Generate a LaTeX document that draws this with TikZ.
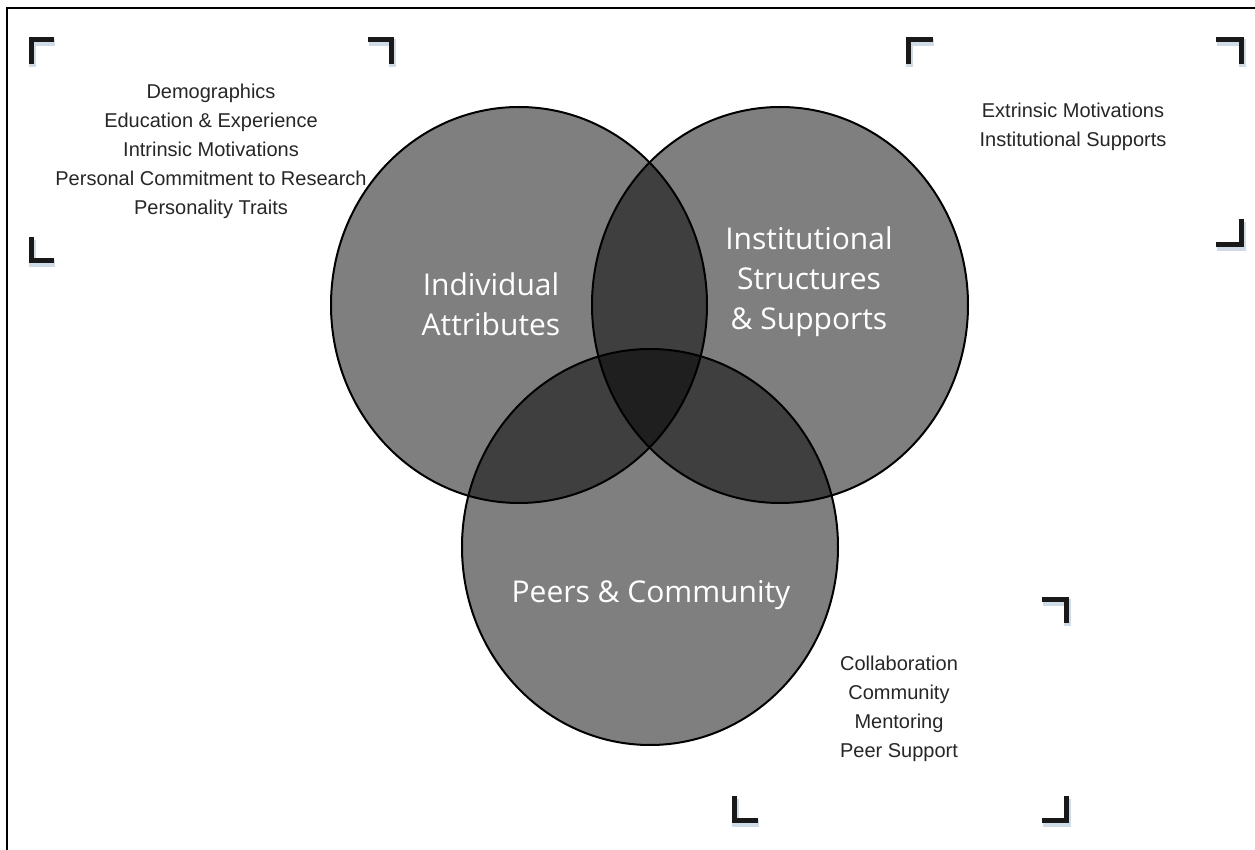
\documentclass[tikz,border=0pt]{standalone}
\usepackage{fontspec}
\setmainfont{Liberation Sans}
\newfontfamily\circlefont{Open Sans}
\usepackage{tikz}
\usepackage{xcolor}

\definecolor{shadowblue}{RGB}{175,195,215}

\begin{document}
\begin{tikzpicture}[x=0.5pt, y=-0.5pt,
  vennfill/.style={fill=black, fill opacity=0.5},
  vennline/.style={draw=black, line width=1pt},
  cornermark/.style={draw=black!90, line width=2.5pt, line join=miter},
  cornershadow/.style={draw=shadowblue, line width=3.5pt, opacity=0.6},
  factors/.style={align=center, text=black!85, font=\fontsize{10}{14.5}\selectfont},
  area/.style={align=center, text=white, font=\circlefont\fontsize{15}{20}\selectfont}]
\useasboundingbox (0,0) rectangle (1255,850);

% Frame
\draw[black, line width=0.8pt] (7,850) -- (7,8) -- (1255,8);

% Venn circles: fills first, outlines on top
\foreach \cx/\cy in {519/305, 780/305, 650/547}
  \fill[vennfill] (\cx,\cy) ellipse [x radius=94pt, y radius=99pt];
\foreach \cx/\cy in {519/305, 780/305, 650/547}
  \draw[vennline] (\cx,\cy) ellipse [x radius=94pt, y radius=99pt];

% Circle labels
\node[area] (indivlabel) at (491,304) {Individual\\Attributes};
\node[area] (instlabel) at (809,282) {Institutional\\Structures\\\& Supports};
\node[area] (peerslabel) at (651,595) {Peers \& Community};

% Corner marks
\foreach \ax/\ay/\bx/\by/\ex/\ey in {31/64/31/40/54/40, 368/40/391/40/391/64, 31/237/31/261/54/261,
    908/64/908/40/933/40, 1216/40/1241/40/1241/64, 1241/219/1241/245/1216/245,
    1042/600/1066/600/1066/623, 734/796/734/820/758/820, 1066/796/1066/820/1042/820}{
  \draw[cornershadow] (\ax+1,\ay+3) -- (\bx+1,\by+3) -- (\ex+1,\ey+3);
  \draw[cornermark] (\ax,\ay) -- (\bx,\by) -- (\ex,\ey);
}

% Factor lists
\node[factors] (indivlist) at (211,151) {Demographics\\Education \& Experience\\Intrinsic Motivations\\Personal Commitment to Research\\Personality Traits};
\node[factors] (instlist) at (1073,127) {Extrinsic Motivations\\Institutional Supports};
\node[factors] (peerslist) at (899,709) {Collaboration\\Community\\Mentoring\\Peer Support};
\end{tikzpicture}
\end{document}
